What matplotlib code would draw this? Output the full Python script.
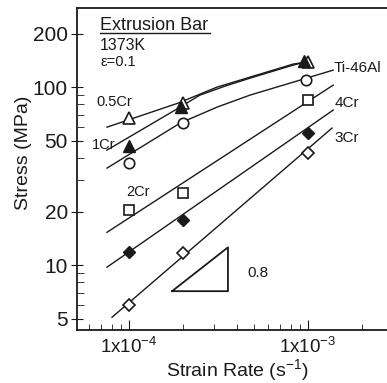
import numpy as np
from matplotlib import pyplot as plt

plt.rcParams['font.family'] = ['Liberation Sans', 'DejaVu Sans']
plt.rcParams['mathtext.fontset'] = 'custom'
plt.rcParams['mathtext.rm'] = 'Liberation Sans'
plt.rcParams['mathtext.it'] = 'Liberation Sans:italic'

# Messpunkte (strain rate, stress)
rate = [1e-4, 2e-4, 1e-3]
s_05cr = [67, 81, 138]
rate_1cr = [1e-4, 1.95e-4, 0.95e-3]
s_1cr = [47, 77, 140]
rate_ti = [1e-4, 2e-4, 0.97e-3]
s_ti46al = [37.4, 62.8, 110]
s_2cr = [20.4, 25.4, 84.5]
s_4cr = [11.8, 17.9, 55.2]
s_3cr = [5.96, 11.7, 42.6]

# Linjer (avlästa punkter)
lx_05cr = [7.54e-5, 1.88e-4, 3.10e-4, 4.74e-4, 8.25e-4, 9.0e-4]
ly_05cr = [59.6, 81.3, 100, 113.8, 134.7, 136.5]
lx_1cr = [7.54e-5, 1.93e-4, 2.49e-4, 3.44e-4, 4.74e-4, 8.25e-4, 9.0e-4]
ly_1cr = [44.3, 77.2, 90.2, 101.3, 112.3, 132.9, 136.0]
lx_ti = [7.54e-5, 1.93e-4, 3.10e-4, 4.74e-4, 9.4e-4, 1.38e-3]
ly_ti = [35.1, 62.8, 77.2, 90.2, 110.9, 124.6]
lx_2cr = [7.54e-5, 1.38e-3]
ly_2cr = [15.3, 102.6]
lx_4cr = [7.54e-5, 1.38e-3]
ly_4cr = [9.75, 74.3]
lx_3cr = [8.04e-5, 1.36e-3]
ly_3cr = [5.1, 58.9]

# Lutningstriangel
tri_x = [1.74e-4, 3.57e-4, 3.57e-4, 1.74e-4]
tri_y = [7.15, 7.15, 12.6, 7.15]

fig = plt.figure(figsize=(3.87, 3.83), dpi=100)
ax = fig.add_axes([0.199, 0.138, 0.831, 0.841])
ax.set_xscale('log')
ax.set_yscale('log')

lc = '#1a1a1a'
for lx, ly in [(lx_05cr, ly_05cr), (lx_1cr, ly_1cr), (lx_ti, ly_ti),
               (lx_2cr, ly_2cr), (lx_4cr, ly_4cr), (lx_3cr, ly_3cr)]:
  ax.plot(lx, ly, color=lc, linewidth=1.0)

ax.plot(rate, s_05cr, '^', ms=8.5, mfc='white', mec=lc, mew=1.2, ls='none')
ax.plot(rate_1cr, s_1cr, '^', ms=8.5, mfc=lc, mec=lc, ls='none')
ax.plot(rate_ti, s_ti46al, 'o', ms=7.5, mfc='white', mec=lc, mew=1.2, ls='none')
ax.plot(rate, s_2cr, 's', ms=7, mfc='white', mec=lc, mew=1.2, ls='none')
ax.plot(rate, s_4cr, 'D', ms=6.5, mfc=lc, mec=lc, ls='none')
ax.plot(rate, s_3cr, 'D', ms=6.5, mfc='white', mec=lc, mew=1.2, ls='none')

ax.plot(tri_x, tri_y, color=lc, linewidth=1.3)
ax.text(4.56e-4, 9.0, '0.8', fontsize=11, va='center', ha='left', color=lc)

# Etiketter
ax.text(6.6e-5, 82, '0.5Cr', fontsize=10.5, va='center', ha='left', color=lc)
ax.text(6.2e-5, 47.5, '1Cr', fontsize=10.5, va='center', ha='left', color=lc)
ax.text(0.97e-4, 25.7, '2Cr', fontsize=10.5, va='center', ha='left', color=lc)
ax.text(1.39e-3, 128, 'Ti-46Al', fontsize=11, va='center', ha='left', color=lc)
ax.text(1.41e-3, 81.3, '4Cr', fontsize=11, va='center', ha='left', color=lc)
ax.text(1.41e-3, 51.7, '3Cr', fontsize=11, va='center', ha='left', color=lc)

ax.text(0.0715, 0.947, 'Extrusion Bar', transform=ax.transAxes,
        fontsize=13, va='center', ha='left', color=lc)
ax.plot([0.0715, 0.4136], [0.922, 0.922], transform=ax.transAxes, color=lc, linewidth=1.0)
ax.text(0.0715, 0.885, '1373K', transform=ax.transAxes, fontsize=11.5,
        va='center', ha='left', color=lc)
ax.text(0.0715, 0.832, 'ε=0.1', transform=ax.transAxes, fontsize=10.5,
        va='center', ha='left', color=lc)

ax.set_xlim(5.13e-5, 3.2e-3)
ax.set_ylim(4.32, 278)
ax.set_xticks([1e-4, 1e-3])
ax.set_xticklabels([r'1x10$^{-4}$', r'1x10$^{-3}$'])
ax.set_yticks([5, 10, 20, 50, 100, 200])
ax.set_yticklabels(['5', '10', '20', '50', '100', '200'])
ax.tick_params(axis='y', which='major', direction='inout', length=9, labelsize=15, colors=lc, pad=2)
ax.tick_params(axis='y', which='minor', direction='in', length=5, color=lc)
ax.tick_params(axis='x', which='major', direction='in', length=7, labelsize=13.5, colors=lc, pad=5)
ax.tick_params(axis='x', which='minor', direction='in', length=4, color=lc)
ax.yaxis.set_minor_formatter(plt.NullFormatter())
ax.xaxis.set_minor_formatter(plt.NullFormatter())

for s in ax.spines.values():
  s.set_color(lc)
  s.set_linewidth(1.3)

ax.set_xlabel(r'Strain Rate (s$^{-1}$)', fontsize=14, color=lc, labelpad=0)
ax.set_ylabel('Stress (MPa)', fontsize=14, color=lc)
ax.yaxis.set_label_coords(-0.14, 0.55)

fig.savefig('out.png', dpi=100)
